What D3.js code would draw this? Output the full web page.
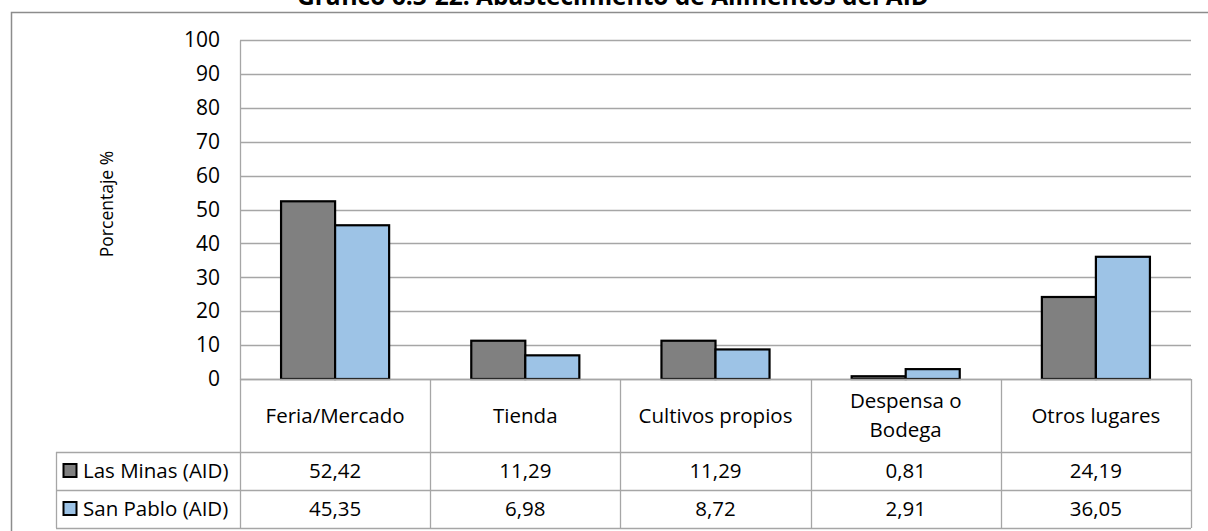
<!DOCTYPE html>
<html>
<head>
<meta charset="utf-8">
<script src="https://cdn.jsdelivr.net/npm/d3@7"></script>
<style>
  body { margin: 0; background: #fff; }
  svg { display: block; font-family: 'Open Sans', sans-serif; }
</style>
</head>
<body>
<svg id="chart" width="1208" height="531"></svg>
<script>
// data
const categories = ['Feria/Mercado', 'Tienda', 'Cultivos propios', 'Despensa o Bodega', 'Otros lugares'];
const categoryLines = [['Feria/Mercado'], ['Tienda'], ['Cultivos propios'], ['Despensa o', 'Bodega'], ['Otros lugares']];
const seriesNames = ['Las Minas (AID)', 'San Pablo (AID)'];
const lasMinas = [52.42, 11.29, 11.29, 0.81, 24.19];
const sanPablo = [45.35, 6.98, 8.72, 2.91, 36.05];
const yTicks = [0, 10, 20, 30, 40, 50, 60, 70, 80, 90, 100];
const colors = ['#808080', '#9dc3e6'];

const svg = d3.select('#chart');
const gridColor = '#a6a6a6';
const fmt = v => v.toFixed(2).replace('.', ',');
const tableFont = 20.5;

// outer frame (continues past the picture edges)
svg.append('path')
  .attr('d', 'M11.5,540V12.5H1220')
  .attr('fill', 'none')
  .attr('stroke', '#8c8c8c')
  .attr('stroke-width', 1.5);

// title, cut off by the top edge
svg.append('text')
  .attr('x', 613)
  .attr('y', 5)
  .attr('text-anchor', 'middle')
  .attr('font-weight', 'bold')
  .attr('font-size', 24.5)
  .text('Gráfico 6.3-22: Abastecimiento de Alimentos del AID');

const plotLeft = 240, plotRight = 1191, plotTop = 40, plotBottom = 379;

const x0 = d3.scaleBand().domain(categories).range([plotLeft, plotRight]);
const x1 = d3.scaleBand().domain(seriesNames).range([0, x0.bandwidth()]).paddingOuter(0.76);
const y = d3.scaleLinear().domain([0, 100]).range([plotBottom, plotTop]);

// gridlines
svg.append('g')
  .selectAll('line')
  .data(yTicks)
  .join('line')
  .attr('x1', plotLeft)
  .attr('x2', plotRight)
  .attr('y1', d => Math.round(y(d)) + 0.5)
  .attr('y2', d => Math.round(y(d)) + 0.5)
  .attr('stroke', gridColor)
  .attr('stroke-width', 1.3);

// y axis
const yAxis = svg.append('g')
  .attr('transform', 'translate(' + plotLeft + ',0)')
  .call(d3.axisLeft(y).tickValues(yTicks).tickSize(0).tickPadding(20));
yAxis.select('.domain').attr('stroke', gridColor).attr('stroke-width', 1.3);
yAxis.selectAll('text')
  .attr('font-family', "'Open Sans', sans-serif")
  .attr('font-size', 21)
  .attr('fill', '#000');

svg.append('text')
  .attr('transform', 'translate(113,' + 204 + ') rotate(-90)')
  .attr('text-anchor', 'middle')
  .attr('font-size', 17.5)
  .text('Porcentaje %');

// bars
const rows = categories.map((c, i) => ({ cat: c, values: [lasMinas[i], sanPablo[i]] }));
svg.append('g')
  .selectAll('g')
  .data(rows)
  .join('g')
  .attr('transform', d => 'translate(' + x0(d.cat) + ',0)')
  .selectAll('rect')
  .data(d => d.values.map((v, k) => ({ key: seriesNames[k], value: v, k: k })))
  .join('rect')
  .attr('x', d => x1(d.key))
  .attr('y', d => y(d.value))
  .attr('width', x1.bandwidth())
  .attr('height', d => plotBottom - y(d.value))
  .attr('fill', d => colors[d.k])
  .attr('stroke', '#000')
  .attr('stroke-width', 2.2);

// data table
const rowTop = plotBottom, rowCat = 452, row1 = 490, row2 = 528, legLeft = 56;
const tbl = svg.append('g').attr('stroke', gridColor).attr('stroke-width', 1.3);
[rowCat, row1, row2].forEach(yy => {
  tbl.append('line').attr('x1', legLeft).attr('x2', plotRight).attr('y1', yy + 0.5).attr('y2', yy + 0.5);
});
tbl.append('line').attr('x1', plotLeft).attr('x2', plotRight).attr('y1', rowTop + 0.5).attr('y2', rowTop + 0.5);
tbl.append('line').attr('x1', legLeft + 0.5).attr('x2', legLeft + 0.5).attr('y1', rowCat).attr('y2', row2);
categories.forEach(c => {
  tbl.append('line').attr('x1', Math.round(x0(c)) + 0.5).attr('x2', Math.round(x0(c)) + 0.5).attr('y1', rowTop).attr('y2', row2);
});
tbl.append('line').attr('x1', plotRight + 0.5).attr('x2', plotRight + 0.5).attr('y1', rowTop).attr('y2', row2);

// category labels
const catMid = (rowTop + rowCat) / 2;
const lineGap = 29;
svg.append('g')
  .selectAll('text')
  .data(categories)
  .join('text')
  .attr('text-anchor', 'middle')
  .attr('font-size', tableFont)
  .each(function (d, i) {
    const lines = categoryLines[i];
    const t = d3.select(this);
    const first = catMid + 7 - (lines.length - 1) * lineGap / 2;
    lines.forEach((ln, j) => {
      t.append('tspan')
        .attr('x', x0(d) + x0.bandwidth() / 2)
        .attr('y', first + j * lineGap)
        .text(ln);
    });
  });

// value rows with legend keys
const series = [lasMinas, sanPablo];
const rowTops = [rowCat, row1];
series.forEach((vals, k) => {
  const cy = (rowTops[k] + (k === 0 ? row1 : row2)) / 2;
  svg.append('rect')
    .attr('x', 63.5)
    .attr('y', cy - 7)
    .attr('width', 13)
    .attr('height', 13)
    .attr('fill', colors[k])
    .attr('stroke', '#000')
    .attr('stroke-width', 2);
  svg.append('text')
    .attr('x', 83)
    .attr('y', cy)
    .attr('dy', '0.35em')
    .attr('font-size', tableFont)
    .text(seriesNames[k]);
  svg.append('g')
    .selectAll('text')
    .data(vals)
    .join('text')
    .attr('x', (d, i) => x0(categories[i]) + x0.bandwidth() / 2)
    .attr('y', cy)
    .attr('dy', '0.35em')
    .attr('text-anchor', 'middle')
    .attr('font-size', tableFont)
    .text(d => fmt(d));
});
</script>
</body>
</html>
